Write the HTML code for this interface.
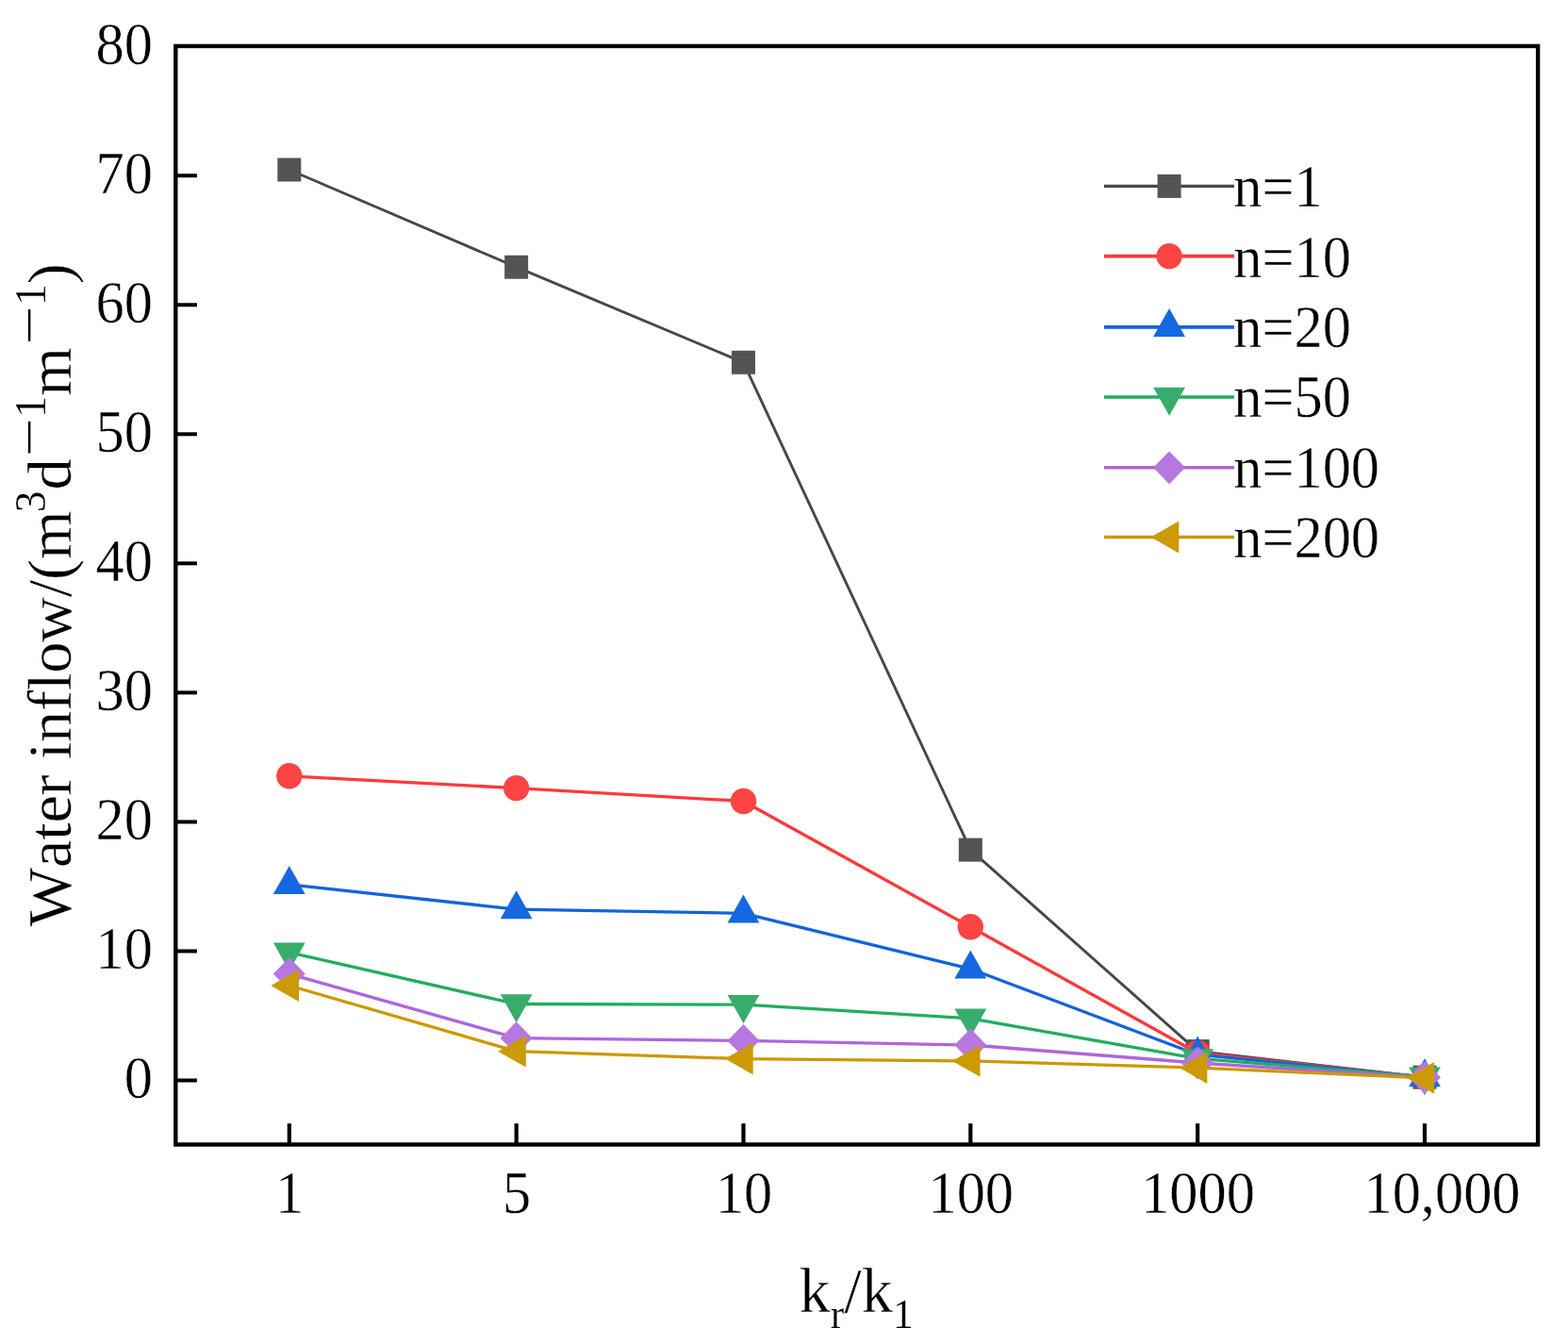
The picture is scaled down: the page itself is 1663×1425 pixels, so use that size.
<!DOCTYPE html>
<html lang="en"><head><meta charset="utf-8"><title>Water inflow vs kr/k1</title>
<style>
html,body{margin:0;padding:0;background:#fff;}
body{width:1663px;height:1425px;overflow:hidden;}
svg{display:block;}
text{font-family:"Liberation Serif","Times New Roman",serif;fill:#000;font-kerning:none;font-variant-ligatures:none;stroke:#fff;stroke-width:0.4px;stroke-linejoin:round;}
</style></head><body>
<svg width="1663" height="1425" viewBox="0 0 1663 1425">
<rect x="0" y="0" width="1663" height="1425" fill="#fff"/>
<polyline points="306.80,180.00 547.64,283.20 788.48,384.30 1029.32,901.10 1270.16,1114.60 1511.00,1142.20" fill="none" stroke="#474747" stroke-width="2.9" stroke-linejoin="round"/>
<rect x="294.30" y="167.50" width="25.00" height="25.00" fill="#545454"/>
<rect x="535.14" y="270.70" width="25.00" height="25.00" fill="#545454"/>
<rect x="775.98" y="371.80" width="25.00" height="25.00" fill="#545454"/>
<rect x="1016.82" y="888.60" width="25.00" height="25.00" fill="#545454"/>
<rect x="1257.66" y="1102.10" width="25.00" height="25.00" fill="#545454"/>
<rect x="1498.50" y="1129.70" width="25.00" height="25.00" fill="#545454"/>
<polyline points="306.80,822.80 547.64,835.60 788.48,849.50 1029.32,982.80 1270.16,1116.50 1511.00,1142.20" fill="none" stroke="#FF3838" stroke-width="3.3" stroke-linejoin="round"/>
<circle cx="306.80" cy="822.80" r="13.7" fill="#FF4444"/>
<circle cx="547.64" cy="835.60" r="13.7" fill="#FF4444"/>
<circle cx="788.48" cy="849.50" r="13.7" fill="#FF4444"/>
<circle cx="1029.32" cy="982.80" r="13.7" fill="#FF4444"/>
<circle cx="1270.16" cy="1116.50" r="13.7" fill="#FF4444"/>
<circle cx="1511.00" cy="1142.20" r="13.7" fill="#FF4444"/>
<polyline points="306.80,937.90 547.64,964.10 788.48,968.40 1029.32,1027.30 1270.16,1118.20 1511.00,1142.10" fill="none" stroke="#1263DE" stroke-width="3.3" stroke-linejoin="round"/>
<polygon points="306.80,918.10 289.90,948.10 323.70,948.10" fill="#1568E0"/>
<polygon points="547.64,944.30 530.74,974.30 564.54,974.30" fill="#1568E0"/>
<polygon points="788.48,948.60 771.58,978.60 805.38,978.60" fill="#1568E0"/>
<polygon points="1029.32,1007.50 1012.42,1037.50 1046.22,1037.50" fill="#1568E0"/>
<polygon points="1270.16,1098.40 1253.26,1128.40 1287.06,1128.40" fill="#1568E0"/>
<polygon points="1511.00,1122.30 1494.10,1152.30 1527.90,1152.30" fill="#1568E0"/>
<polyline points="306.80,1009.80 547.64,1064.50 788.48,1065.20 1029.32,1079.80 1270.16,1122.40 1511.00,1141.60" fill="none" stroke="#22AD5E" stroke-width="3.3" stroke-linejoin="round"/>
<polygon points="306.80,1029.60 289.90,999.60 323.70,999.60" fill="#37AD6B"/>
<polygon points="547.64,1084.30 530.74,1054.30 564.54,1054.30" fill="#37AD6B"/>
<polygon points="788.48,1085.00 771.58,1055.00 805.38,1055.00" fill="#37AD6B"/>
<polygon points="1029.32,1099.60 1012.42,1069.60 1046.22,1069.60" fill="#37AD6B"/>
<polygon points="1270.16,1142.20 1253.26,1112.20 1287.06,1112.20" fill="#37AD6B"/>
<polygon points="1511.00,1161.40 1494.10,1131.40 1527.90,1131.40" fill="#37AD6B"/>
<polyline points="306.80,1032.60 547.64,1100.70 788.48,1103.40 1029.32,1108.00 1270.16,1127.00 1511.00,1142.30" fill="none" stroke="#AD66DC" stroke-width="3.3" stroke-linejoin="round"/>
<polygon points="306.80,1015.20 323.80,1032.60 306.80,1050.00 289.80,1032.60" fill="#B677E0"/>
<polygon points="547.64,1083.30 564.64,1100.70 547.64,1118.10 530.64,1100.70" fill="#B677E0"/>
<polygon points="788.48,1086.00 805.48,1103.40 788.48,1120.80 771.48,1103.40" fill="#B677E0"/>
<polygon points="1029.32,1090.60 1046.32,1108.00 1029.32,1125.40 1012.32,1108.00" fill="#B677E0"/>
<polygon points="1270.16,1109.60 1287.16,1127.00 1270.16,1144.40 1253.16,1127.00" fill="#B677E0"/>
<polygon points="1511.00,1124.90 1528.00,1142.30 1511.00,1159.70 1494.00,1142.30" fill="#B677E0"/>
<polyline points="306.80,1045.00 547.64,1114.70 788.48,1122.60 1029.32,1124.90 1270.16,1132.10 1511.00,1142.80" fill="none" stroke="#CC9900" stroke-width="3.3" stroke-linejoin="round"/>
<polygon points="287.30,1045.00 317.00,1028.10 317.00,1061.90" fill="#CC9A04"/>
<polygon points="528.14,1114.70 557.84,1097.80 557.84,1131.60" fill="#CC9A04"/>
<polygon points="768.98,1122.60 798.68,1105.70 798.68,1139.50" fill="#CC9A04"/>
<polygon points="1009.82,1124.90 1039.52,1108.00 1039.52,1141.80" fill="#CC9A04"/>
<polygon points="1250.66,1132.10 1280.36,1115.20 1280.36,1149.00" fill="#CC9A04"/>
<polygon points="1491.50,1142.80 1521.20,1125.90 1521.20,1159.70" fill="#CC9A04"/>
<rect x="186.3" y="48.9" width="1444.80" height="1164.60" fill="none" stroke="#000" stroke-width="4.4"/>
<line x1="186.3" y1="1145.50" x2="208.9" y2="1145.50" stroke="#000" stroke-width="4.0"/>
<line x1="186.3" y1="1008.46" x2="208.9" y2="1008.46" stroke="#000" stroke-width="4.0"/>
<line x1="186.3" y1="871.42" x2="208.9" y2="871.42" stroke="#000" stroke-width="4.0"/>
<line x1="186.3" y1="734.38" x2="208.9" y2="734.38" stroke="#000" stroke-width="4.0"/>
<line x1="186.3" y1="597.34" x2="208.9" y2="597.34" stroke="#000" stroke-width="4.0"/>
<line x1="186.3" y1="460.30" x2="208.9" y2="460.30" stroke="#000" stroke-width="4.0"/>
<line x1="186.3" y1="323.26" x2="208.9" y2="323.26" stroke="#000" stroke-width="4.0"/>
<line x1="186.3" y1="186.22" x2="208.9" y2="186.22" stroke="#000" stroke-width="4.0"/>
<line x1="306.80" y1="1213.5" x2="306.80" y2="1191.2" stroke="#000" stroke-width="4.2"/>
<line x1="547.64" y1="1213.5" x2="547.64" y2="1191.2" stroke="#000" stroke-width="4.2"/>
<line x1="788.48" y1="1213.5" x2="788.48" y2="1191.2" stroke="#000" stroke-width="4.2"/>
<line x1="1029.32" y1="1213.5" x2="1029.32" y2="1191.2" stroke="#000" stroke-width="4.2"/>
<line x1="1270.16" y1="1213.5" x2="1270.16" y2="1191.2" stroke="#000" stroke-width="4.2"/>
<line x1="1511.00" y1="1213.5" x2="1511.00" y2="1191.2" stroke="#000" stroke-width="4.2"/>
<text transform="translate(161.9,1145.20) scale(1,1.06)" x="0" y="17.85" font-size="60.4" text-anchor="end">0</text>
<text transform="translate(161.9,1008.16) scale(1,1.06)" x="0" y="17.85" font-size="60.4" text-anchor="end">10</text>
<text transform="translate(161.9,871.12) scale(1,1.06)" x="0" y="17.85" font-size="60.4" text-anchor="end">20</text>
<text transform="translate(161.9,734.08) scale(1,1.06)" x="0" y="17.85" font-size="60.4" text-anchor="end">30</text>
<text transform="translate(161.9,597.04) scale(1,1.06)" x="0" y="17.85" font-size="60.4" text-anchor="end">40</text>
<text transform="translate(161.9,460.00) scale(1,1.06)" x="0" y="17.85" font-size="60.4" text-anchor="end">50</text>
<text transform="translate(161.9,322.96) scale(1,1.06)" x="0" y="17.85" font-size="60.4" text-anchor="end">60</text>
<text transform="translate(161.9,185.92) scale(1,1.06)" x="0" y="17.85" font-size="60.4" text-anchor="end">70</text>
<text transform="translate(161.9,48.88) scale(1,1.06)" x="0" y="17.85" font-size="60.4" text-anchor="end">80</text>
<text transform="translate(307.20,1285.6) scale(1,1.04)" x="0" y="0" font-size="60.4" text-anchor="middle">1</text>
<text transform="translate(548.04,1285.6) scale(1,1.04)" x="0" y="0" font-size="60.4" text-anchor="middle">5</text>
<text transform="translate(788.88,1285.6) scale(1,1.04)" x="0" y="0" font-size="60.4" text-anchor="middle">10</text>
<text transform="translate(1029.72,1285.6) scale(1,1.04)" x="0" y="0" font-size="60.4" text-anchor="middle">100</text>
<text transform="translate(1270.56,1285.6) scale(1,1.04)" x="0" y="0" font-size="60.4" text-anchor="middle">1000</text>
<text transform="translate(1529.50,1285.6) scale(1,1.04)" x="0" y="0" font-size="60.4" text-anchor="middle">10,000</text>
<line x1="1171" y1="197.40" x2="1309" y2="197.40" stroke="#474747" stroke-width="3.2"/>
<rect x="1227.60" y="184.90" width="25.00" height="25.00" fill="#545454"/>
<text transform="translate(1308.2,219.20) scale(1,1.04)" x="0" y="0" font-size="60.4">n=1</text>
<line x1="1171" y1="271.60" x2="1309" y2="271.60" stroke="#FF3838" stroke-width="3.6"/>
<circle cx="1240.10" cy="271.60" r="13.7" fill="#FF4444"/>
<text transform="translate(1308.2,293.60) scale(1,1.04)" x="0" y="0" font-size="60.4">n=10</text>
<line x1="1171" y1="346.90" x2="1309" y2="346.90" stroke="#1263DE" stroke-width="3.6"/>
<polygon points="1240.10,327.10 1223.20,357.10 1257.00,357.10" fill="#1568E0"/>
<text transform="translate(1308.2,368.00) scale(1,1.04)" x="0" y="0" font-size="60.4">n=20</text>
<line x1="1171" y1="421.00" x2="1309" y2="421.00" stroke="#22AD5E" stroke-width="3.6"/>
<polygon points="1240.10,440.80 1223.20,410.80 1257.00,410.80" fill="#37AD6B"/>
<text transform="translate(1308.2,442.40) scale(1,1.04)" x="0" y="0" font-size="60.4">n=50</text>
<line x1="1171" y1="495.80" x2="1309" y2="495.80" stroke="#AD66DC" stroke-width="3.6"/>
<polygon points="1240.10,478.40 1257.10,495.80 1240.10,513.20 1223.10,495.80" fill="#B677E0"/>
<text transform="translate(1308.2,516.80) scale(1,1.04)" x="0" y="0" font-size="60.4">n=100</text>
<line x1="1171" y1="569.50" x2="1309" y2="569.50" stroke="#CC9900" stroke-width="3.6"/>
<polygon points="1220.60,569.50 1250.30,552.60 1250.30,586.40" fill="#CC9A04"/>
<text transform="translate(1308.2,591.20) scale(1,1.04)" x="0" y="0" font-size="60.4">n=200</text>
<text transform="translate(847.6,1391.4) scale(1,1.03)" x="0" y="0" font-size="66.4">k<tspan font-size="43.5" dy="16.5" stroke-width="0.2">r</tspan><tspan dy="-16.5">/k</tspan><tspan font-size="43.5" dy="16.5" stroke-width="0.2">1</tspan></text>
<g transform="translate(74.7,982.5) rotate(-90)"><text font-size="66.4"><tspan x="0" y="0" letter-spacing="-0.23">Water inflow/(m</tspan><tspan x="439.20" y="-27.1" font-size="45.5" stroke-width="0.2">3</tspan><tspan x="463.00" y="0">d</tspan><tspan x="497.47" y="-18.94" font-size="75.0" stroke-width="1.0">−</tspan><tspan x="539.70" y="-27.1" font-size="45.5" stroke-width="0.2">1</tspan><tspan x="562.80" y="0">m</tspan><tspan x="616.17" y="-18.94" font-size="75.0" stroke-width="1.0">−</tspan><tspan x="658.60" y="-27.1" font-size="45.5" stroke-width="0.2">1</tspan><tspan x="681.35" y="0">)</tspan></text></g>
</svg></body></html>
